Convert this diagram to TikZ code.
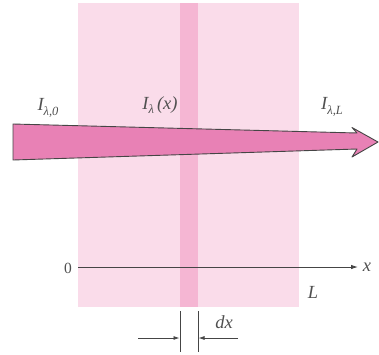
\documentclass[tikz,border=0pt]{standalone}
\usepackage{fontspec}
\setmainfont{Liberation Serif}
\usetikzlibrary{arrows.meta}
\definecolor{slab}{HTML}{FADCEA}
\definecolor{strip}{HTML}{F5B6D3}
\definecolor{beam}{HTML}{E881B5}
\definecolor{ink}{HTML}{454545}
\definecolor{txt}{HTML}{505050}
\newcommand{\lsub}[1]{\raisebox{-4.5pt}{\fontsize{12.5}{13}\selectfont\itshape #1}}
\tikzset{
  lbl/.style={text=txt,font=\fontsize{18.5}{20}\selectfont\itshape,inner sep=1pt},
  num/.style={text=txt,font=\fontsize{15.5}{18}\selectfont,inner sep=1pt},
  axisline/.style={draw=ink,line width=0.9pt,-{Latex[length=7pt,width=4.5pt]}},
  dimline/.style={draw=ink,line width=0.8pt,-{Latex[length=6pt,width=4pt]}},
  tickline/.style={draw=ink,line width=0.8pt}
}
\begin{document}
\begin{tikzpicture}[x=1pt,y=-1pt]
\useasboundingbox (0,0) rectangle (379,354);
% slab and thin strip
\fill[slab] (78,3) rectangle (299,307);
\fill[strip] (180,3) rectangle (198,307);
% beam (tapering arrow)
\filldraw[fill=beam,draw=ink,line width=0.9pt,line join=round]
  (13,124) -- (357,133) -- (352,127.5) -- (378,142) -- (352,157) -- (357,149) -- (13,160) -- cycle;
% labels
\node[lbl] (i0) at (48,108) {I\lsub{λ,0}};
\node[lbl] (ix) at (160,105) {I\lsub{λ}\,(x)};
\node[lbl] (iL) at (332,107) {I\lsub{λ,L}};
% axis
\node[num] (o) at (68,268) {0};
\node[lbl] (xx) at (367,267) {x};
\node[lbl] (L) at (313,292) {L};
\coordinate (axs) at (78,267);
\coordinate (axe) at (358,267);
\draw[axisline] (axs) -- (axe);
% dx dimension
\coordinate (t1a) at (180,311);
\coordinate (t1b) at (180,352);
\coordinate (t2a) at (198,311);
\coordinate (t2b) at (198,352);
\draw[tickline] (t1a) -- (t1b);
\draw[tickline] (t2a) -- (t2b);
\coordinate (la) at (138,338);
\coordinate (lb) at (179.5,338);
\coordinate (ra) at (238,338);
\coordinate (rb) at (198.5,338);
\draw[dimline] (la) -- (lb);
\draw[dimline] (ra) -- (rb);
\node[lbl] (dx) at (224,322) {dx};
\end{tikzpicture}
\end{document}
